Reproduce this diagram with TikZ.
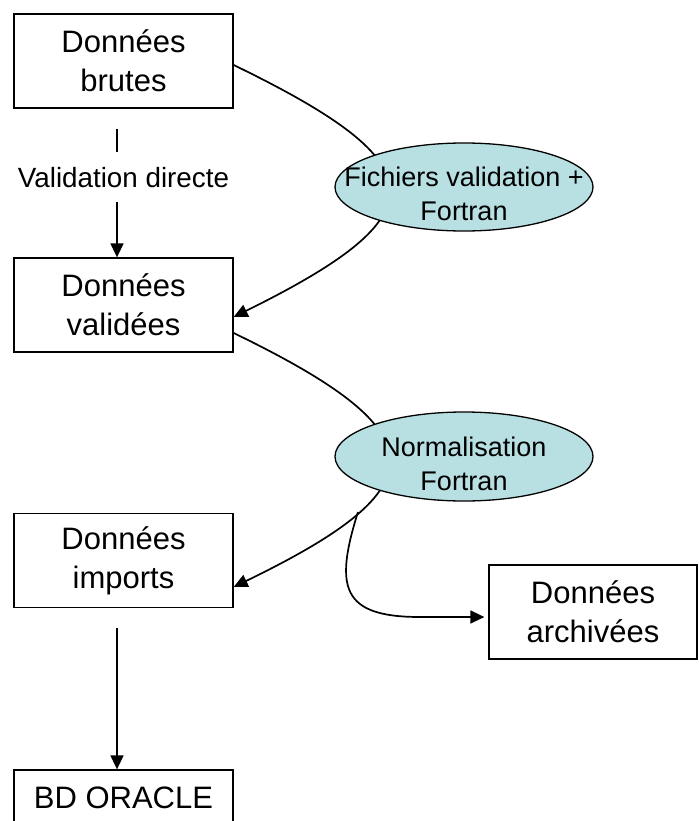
\documentclass[tikz,border=0pt]{standalone}
\usepackage{fontspec}
\setmainfont{Liberation Sans}
\usetikzlibrary{arrows.meta,shapes.geometric,backgrounds,calc}
\definecolor{ellfill}{RGB}{184,224,227}
\tikzset{
 box/.style={draw, line width=1.3pt, minimum width=219pt, minimum height=94pt, align=center, inner sep=0pt, font=\fontsize{31}{39}\selectfont},
 ell/.style={ellipse, draw, line width=1.3pt, fill=ellfill, minimum width=258pt, minimum height=88pt, inner sep=0pt},
 elltext/.style={align=center, inner sep=0pt, font=\fontsize{27}{34}\selectfont},
 lbl/.style={inner sep=0pt, font=\fontsize{27.8}{32}\selectfont},
 conn/.style={line width=1.7pt},
 arr/.style={line width=1.7pt, -{Triangle[length=14pt,width=13pt]}},
}
\begin{document}
\begin{tikzpicture}[x=1pt,y=-1pt]
\useasboundingbox (0,0) rectangle (698,821);
% boxes
\node[box] (b1) at (123.5,61) {Données\\brutes};
\node[box] (b2) at (123.5,305) {Données\\validées};
\node[box] (b3) at (123.5,560.5) {Données\\imports};
\node[box, minimum width=208pt] (b4) at (593,612) {Données\\archivées};
\node[box, minimum height=56pt] (b5) at (123.5,798) {BD ORACLE};
% ellipses
\node[ell] (e1) at (464,187) {};
\node[elltext] (t1) at (464,194) {Fichiers validation +\\Fortran};
\node[ell, minimum height=89pt] (e2) at (464,456.5) {};
\node[elltext] (t2) at (464,464) {Normalisation\\Fortran};
% label
\node[lbl] (vd) at (123.5,178) {Validation directe};
% connectors
\draw[conn] ([xshift=-6.5pt,yshift=-20pt]b1.south) -- ([xshift=-6.5pt,yshift=26pt]vd.center);
\draw[arr] ([xshift=-6.5pt,yshift=-24pt]vd.center) -- ([xshift=-6.5pt]b2.north);
\draw[arr] ([xshift=-6.5pt,yshift=-20pt]b3.south) -- ([xshift=-6.5pt]b5.north);
\begin{pgfonlayer}{background}
\draw[arr] ([yshift=-4pt]b1.east) .. controls (440,165) and (440,215) .. ([yshift=-12pt]b2.east);
\draw[arr] ([yshift=-28pt]b2.east) .. controls (440,433) and (440,487) .. ([yshift=-26.5pt]b3.east);
\coordinate (br) at (358,512);
\draw[arr, shorten >=4pt] (br) .. controls (334,588) and (342,617) .. (420,617) -- ([yshift=-5pt]b4.west);
\end{pgfonlayer}
\end{tikzpicture}
\end{document}
